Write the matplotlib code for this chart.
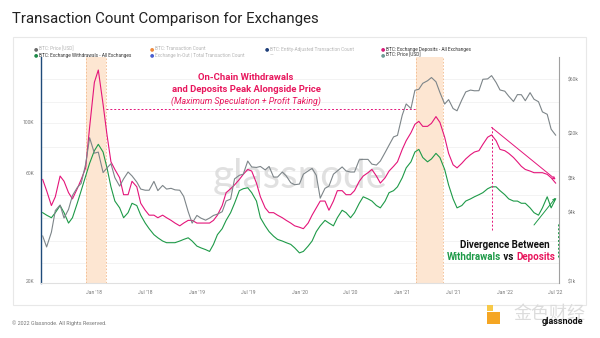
import pandas as pd
import matplotlib.pyplot as plt
from matplotlib.patches import Rectangle
from matplotlib.ticker import FixedLocator, NullLocator

plt.rcParams['font.family'] = ['Roboto', 'DejaVu Sans']

W, H = 600, 338

# semi-monthly samples (1st / 15th), Jul 2017 - Jul 2022
dates = pd.date_range("2017-07-01", "2022-07-01", freq="SMS")

price_usd = [
    2500, 2000, 2700, 4200, 4700, 3600, 4300, 5700, 6700, 7300, 10800, 18500,
    13500, 13800, 9100, 10000, 10900, 8200, 6900, 8000, 9200, 8500, 7500, 6500,
    6350, 6350, 7600, 6300, 7000, 6500, 6600, 6400, 6350, 5600, 4100, 3250,
    3800, 3600, 3450, 3600, 3800, 3900, 4100, 5100, 5300, 8000, 8600, 8800,
    11500, 10200, 10100, 10300, 9600, 10300, 8300, 8300, 9200, 8500, 7400, 7100,
    7200, 8800, 9400, 9900, 8600, 5400, 6600, 6900, 8800, 9400, 10200, 9400,
    9200, 9200, 11800, 11900, 11900, 10800, 10600, 11500, 13700, 15900, 18800, 19400,
    29300, 36800, 33500, 48600, 49600, 56000, 59000, 63000, 57800, 46500, 36700, 40200,
    33500, 32000, 39900, 47000, 48800, 48100, 48200, 60800, 61300, 65500, 57000, 48900,
    47700, 43100, 38700, 44500, 44400, 39300, 46300, 40500, 38500, 31300, 29800, 22000,
    19500,
]

# exchange deposits / withdrawals, thousands of tx (7d MA)
deposits_k = [
    56, 50, 43, 47, 58, 55, 49, 46, 51, 56, 63, 95,
    150, 170, 120, 88, 67, 62, 57, 48, 48, 55, 52, 44,
    41, 39, 39, 38, 39, 38, 37, 36, 35, 36, 37, 37,
    36, 36, 36, 36, 37, 39, 43, 49, 51, 53, 56, 59,
    62, 61, 54, 47, 42, 40, 40, 39, 38, 37, 36, 35,
    34.5, 34, 36, 39, 42, 45, 45, 41, 45, 50, 50, 48,
    48, 50, 55, 58, 60, 62, 58, 54, 57, 61, 64, 67,
    76, 83, 90, 98, 101, 96, 96, 99, 106, 100, 86, 73,
    65, 63, 66, 69, 72, 74, 75, 80, 86, 88, 83, 76,
    75, 73, 70, 67, 64, 62, 61, 60, 60, 60, 59, 57,
    54,
]

withdrawals_k = [
    40, 39, 38, 40, 43, 40, 36, 38, 44, 50, 58, 66,
    75, 80, 74, 63, 52, 45, 42, 38, 40, 44, 43, 39,
    36, 34, 32, 31, 30, 29.5, 29.5, 29.5, 30, 30.5, 31, 30,
    28.5, 28, 27.5, 27, 29, 32, 34, 37, 40, 44, 50, 51,
    51.5, 49, 45, 38, 35, 33, 31.5, 30.5, 30, 29.5, 29, 28,
    26.6, 27, 28.5, 30, 33, 35, 37, 36, 35, 38, 41, 40,
    38, 40, 44, 47, 46, 45, 43, 42, 45, 49, 50, 52,
    57, 63, 67, 74, 76, 70, 67, 69, 73, 70, 62, 53,
    46, 42, 43, 45, 46, 47, 48, 49, 51, 52, 52, 50,
    48, 46, 45, 45, 44, 44, 42, 40, 39, 42, 47, 42,
    46,
]

bands = [("2017-12-02", "2018-02-12"), ("2021-02-20", "2021-05-26")]

left_ticks = [20000, 60000, 100000]
left_labels = ["20K", "60K", "100K"]
left_grid = [24000, 30000, 38000, 48000, 61000, 78000, 99000, 123000, 155000]
right_ticks = [1000, 4000, 8000, 20000, 60000]
right_labels = ["$1k", "$4k", "$8k", "$20k", "$60k"]
x_ticks = pd.date_range("2018-01-01", "2022-07-01", freq="6MS")
x_labels = [d.strftime("%b '%y") for d in x_ticks]

PINK = '#e4157a'
GREEN = '#1e9a48'
GREY = '#7d8589'
RED = '#e8175d'


def fx(px):
    return px / W


def fy(py):
    return 1 - py / H


fig = plt.figure(figsize=(6, 3.38), dpi=100)
fig.patch.set_facecolor('white')

# white card behind everything
fig.patches.append(Rectangle((fx(13), fy(305)), fx(586) - fx(13), fy(37) - fy(305),
                             transform=fig.transFigure, facecolor='white',
                             edgecolor='#e8e8e8', lw=0.8, zorder=-10))

ax = fig.add_axes([fx(41), fy(283), fx(559) - fx(41), fy(57) - fy(283)])
ax.set_facecolor('none')
ax2 = ax.twinx()

dep = [v * 1000 for v in deposits_k]
wd = [v * 1000 for v in withdrawals_k]

ax.set_yscale('log')
ax.set_ylim(19600, 194000)
ax.set_xlim(pd.Timestamp("2017-06-25"), pd.Timestamp("2022-07-13"))

for g in left_grid:
    ax.axhline(g, color='#efefef', lw=0.5, zorder=0)

for a, b in bands:
    ax.axvspan(pd.Timestamp(a), pd.Timestamp(b), color='#fde6d2', lw=0, zorder=1)
    for edge in (a, b):
        ax.axvline(pd.Timestamp(edge), color='#f3b98a', lw=0.6, ls=(0, (2, 2)), zorder=1)

ax.text(0.5, 0.47, "glassnode", transform=ax.transAxes, ha='center', va='center',
        fontsize=29, color='#d4d4d4', alpha=0.7, family='Lato', zorder=1)

ax.plot(dates, wd, color=GREEN, lw=0.8, zorder=3)
ax.plot(dates, dep, color=PINK, lw=0.8, zorder=3)

# annotation lines
ax.hlines(114600, pd.Timestamp("2018-02-12"), pd.Timestamp("2021-02-20"),
          colors=PINK, lw=0.7, linestyles=(0, (2, 2)), zorder=4)
ax.vlines(pd.Timestamp("2021-11-15"), 33400, 95000, colors=PINK, lw=0.7,
          linestyles=(0, (2, 2)), zorder=4)
ax.annotate("", xy=(pd.Timestamp("2022-07-01"), 56000), xytext=(pd.Timestamp("2021-11-15"), 95000),
            arrowprops=dict(arrowstyle='->', color=PINK, lw=0.7, shrinkA=0, shrinkB=0,
                            mutation_scale=4), zorder=5)
ax.annotate("", xy=(pd.Timestamp("2022-07-01"), 46500), xytext=(pd.Timestamp("2022-04-15"), 35300),
            arrowprops=dict(arrowstyle='->', color=GREEN, lw=0.7, shrinkA=0, shrinkB=0,
                            mutation_scale=4), zorder=5)
ax.vlines(pd.Timestamp("2022-07-11"), 25500, 36000, colors=GREEN, lw=0.7,
          linestyles=(0, (2, 2)), zorder=5, clip_on=False)

ax2.set_yscale('log')
ax2.set_ylim(960, 95700)
ax2.plot(dates, price_usd, color=GREY, lw=0.8, zorder=2)

# axes styling
ax.yaxis.set_major_locator(FixedLocator(left_ticks))
ax.set_yticklabels(left_labels)
ax.yaxis.set_minor_locator(NullLocator())
ax2.yaxis.set_major_locator(FixedLocator(right_ticks))
ax2.set_yticklabels(right_labels)
ax2.yaxis.set_minor_locator(NullLocator())
ax.set_xticks(x_ticks)
ax.set_xticklabels(x_labels)

for a in (ax, ax2):
    a.tick_params(axis='both', length=0, labelsize=3.6, labelcolor='#777777')
    a.spines['top'].set_visible(False)
ax.tick_params(axis='y', pad=5)
ax2.tick_params(axis='y', pad=6)
ax.tick_params(axis='x', pad=5)
ax.spines['left'].set_color('#1f4b7a')
ax.spines['left'].set_linewidth(1.0)
ax.spines['right'].set_visible(False)
ax2.spines['left'].set_visible(False)
ax2.spines['right'].set_color('#a0a0a0')
ax2.spines['right'].set_linewidth(0.8)
ax.spines['bottom'].set_color('#e0e0e0')
ax2.spines['bottom'].set_visible(False)

# title
fig.text(fx(12), fy(19), "Transaction Count Comparison for Exchanges",
         fontsize=10.8, color='#222222', ha='left', va='center')

# legend
legend_labels = ["BTC: Price [USD]", "BTC: Transaction Count",
                 "BTC: Entity-Adjusted Transaction Count", "BTC: Exchange Deposits - All Exchanges",
                 "BTC: Exchange Withdrawals - All Exchanges", "Exchange In-Out | Total Transaction Count",
                 "", "BTC: Price [USD]"]
legend_dots = ['#6b6b6b', '#f08a3c', '#1f3f7a', '#d81b7a', '#1e8a48', '#4a5fd0', None, '#6e9a94']
legend_active = [False, False, False, True, True, False, False, True]
legend_xy = [(36, 49), (152, 49), (267, 49), (383, 49),
             (36, 55), (152, 55), (267, 55), (383, 55)]
for lab, col, act, (lx, ly) in zip(legend_labels, legend_dots, legend_active, legend_xy):
    if col is None:
        fig.text(fx(lx + 3), fy(ly), "—", fontsize=3.4, color='#aaaaaa', va='center')
        continue
    fig.text(fx(lx), fy(ly), "●", fontsize=3.6, color=col, ha='center', va='center',
             family='DejaVu Sans')
    fig.text(fx(lx + 3), fy(ly), lab, fontsize=3.4, va='center',
             color='#333333' if act else '#b5b5b5')

# annotation text
fig.text(fx(246), fy(77), "On-Chain Withdrawals", ha='center', va='center',
         fontsize=6.8, fontweight='bold', color=RED)
fig.text(fx(246), fy(89), "and Deposits Peak Alongside Price", ha='center', va='center',
         fontsize=6.8, fontweight='bold', color=RED)
fig.text(fx(246), fy(101), "(Maximum Speculation + Profit Taking)", ha='center', va='center',
         fontsize=6.4, style='italic', color=RED)

fig.text(fx(505), fy(245), "Divergence Between", ha='center', va='center',
         fontsize=7, fontweight='bold', color='#111111')
w_txt = fig.text(fx(447), fy(257), "Withdrawals", ha='left', va='center',
                 fontsize=7, fontweight='bold', color=GREEN)
v_txt = ax.annotate(" vs ", xy=(1, 0), xycoords=w_txt, ha='left', va='bottom',
                    fontsize=7, fontweight='bold', color='#111111', annotation_clip=False)
ax.annotate("Deposits", xy=(1, 0), xycoords=v_txt, ha='left', va='bottom',
            fontsize=7, fontweight='bold', color=RED, annotation_clip=False)

# footer
fig.text(fx(12), fy(323), "© 2022 Glassnode. All Rights Reserved.", fontsize=3.9,
         color='#777777', ha='left', va='center')

fig.patches.append(Rectangle((fx(487), fy(324)), fx(500) - fx(487), fy(312) - fy(324),
                             transform=fig.transFigure, facecolor='#f5a623', lw=0, zorder=2))
fig.patches.append(Rectangle((fx(487), fy(311)), fx(493) - fx(487), fy(305) - fy(311),
                             transform=fig.transFigure, facecolor='#f7c948', lw=0, zorder=2))
fig.text(fx(549), fy(314), "金色财经", fontsize=13, color='#dcdcdc', ha='center', va='center',
         family=['Noto Sans CJK SC', 'DejaVu Sans'])
fig.text(fx(563), fy(321), "glassnode", fontsize=6.5, fontweight='bold', color='#111111',
         ha='center', va='center')

fig.savefig("out.png", dpi=100)
